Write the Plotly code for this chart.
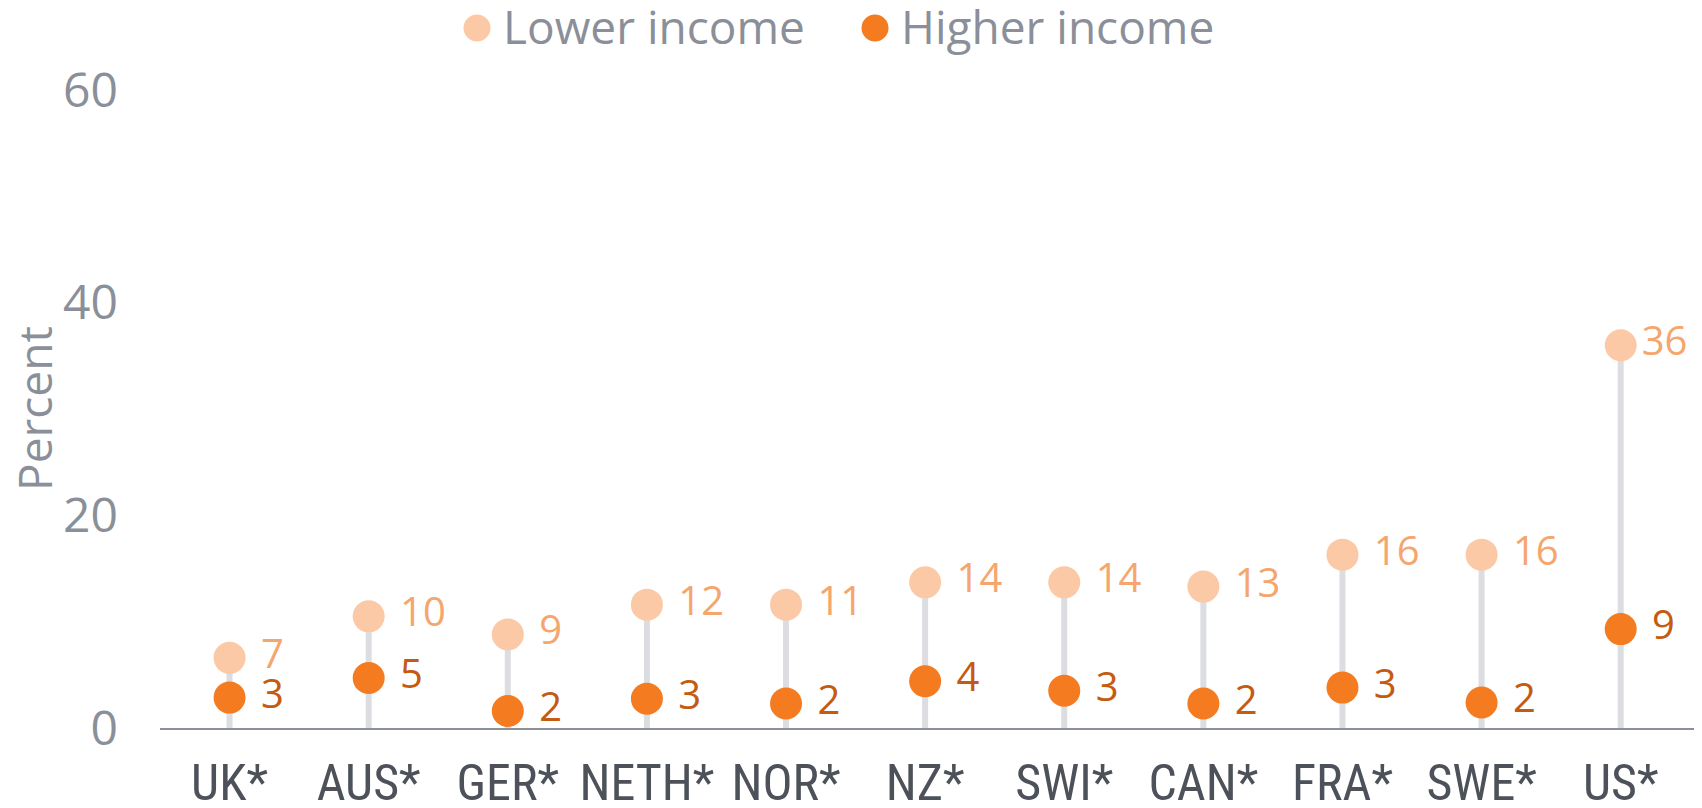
import subprocess
import plotly.graph_objects as go

countries = ["UK*", "AUS*", "GER*", "NETH*", "NOR*", "NZ*", "SWI*", "CAN*", "FRA*", "SWE*", "US*"]
lower_income = [6.6, 10.5, 8.8, 11.6, 11.6, 13.7, 13.7, 13.3, 16.3, 16.3, 36.0]
higher_income = [2.86, 4.7, 1.6, 2.75, 2.3, 4.4, 3.5, 2.3, 3.8, 2.4, 9.3]
lower_labels = ["7", "10", "9", "12", "11", "14", "14", "13", "16", "16", "36"]
higher_labels = ["3", "5", "2", "3", "2", "4", "3", "2", "3", "2", "9"]
y_ticks = [0, 20, 40, 60]
series_names = ["Lower income", "Higher income"]

FONT = "Open Sans"
GRAY = "#8a8f99"
LOWER_C = "#fbc9a5"
HIGHER_C = "#f47b20"

# pick a condensed face for the category labels if one is installed
try:
    fams = subprocess.run(["fc-list", ":", "family"], capture_output=True, text=True).stdout
except Exception:
    fams = ""
NARROW, NARROW_SIZE = "Roboto", 44
for cand in ["Liberation Sans Narrow", "Roboto Condensed", "DejaVu Sans Condensed", "Open Sans Condensed"]:
    if cand in fams:
        NARROW = cand
        NARROW_SIZE = 50 if cand in ("Liberation Sans Narrow", "Roboto Condensed") else 44
        break

# page body has an 8px margin; positions below are page pixels
OFF = 8
W, H = 1702, 808
L, R, T, B = 152, 10, 82, 88
PW, PH = W - L - R, H - T - B


def px_x(px):
    return (px - OFF - L) / PW


def px_y(py):
    return (H - B - (py - OFF)) / PH


stem_x, stem_y = [], []
for c, v in zip(countries, lower_income):
    stem_x += [c, c, None]
    stem_y += [0, v, None]

# small gap before value labels (none for the last one, which sits at the edge)
pads = [" "] * (len(countries) - 1) + [""]

fig = go.Figure()
fig.add_trace(go.Scatter(x=stem_x, y=stem_y, mode="lines",
                         line=dict(color="#dcdde1", width=6),
                         showlegend=False, hoverinfo="skip"))
fig.add_trace(go.Scatter(x=countries, y=lower_income, mode="markers+text",
                         name=series_names[0], showlegend=False, cliponaxis=False,
                         marker=dict(size=32, color=LOWER_C),
                         text=[p + t for p, t in zip(pads, lower_labels)], textposition="middle right",
                         textfont=dict(family=FONT, size=40, color="#f5a66e")))
fig.add_trace(go.Scatter(x=countries, y=higher_income, mode="markers+text",
                         name=series_names[1], showlegend=False, cliponaxis=False,
                         marker=dict(size=32, color=HIGHER_C),
                         text=[" " + t for t in higher_labels], textposition="middle right",
                         textfont=dict(family=FONT, size=40, color="#c55a11")))

# legend drawn manually (large markers as in the reference)
legend_items = [(series_names[0], LOWER_C, 477, 501), (series_names[1], HIGHER_C, 875, 899)]
shapes, annotations = [], []
for name, col, cx, tx in legend_items:
    shapes.append(dict(type="circle", xref="paper", yref="paper",
                       xsizemode="pixel", ysizemode="pixel",
                       xanchor=px_x(cx), yanchor=px_y(28),
                       x0=-13.5, x1=13.5, y0=-13.5, y1=13.5,
                       fillcolor=col, line=dict(width=0)))
    annotations.append(dict(text=name, xref="paper", yref="paper",
                            x=px_x(tx), y=px_y(26), xanchor="left", yanchor="middle",
                            showarrow=False, font=dict(family=FONT, size=46, color=GRAY)))

annotations.append(dict(text="Percent", xref="paper", yref="paper",
                        x=px_x(34), y=px_y(409), xanchor="center", yanchor="middle",
                        textangle=-90, showarrow=False,
                        font=dict(family=FONT, size=46, color=GRAY)))

fig.update_layout(
    width=W, height=H,
    margin=dict(l=L, r=R, t=T, b=B, autoexpand=False),
    plot_bgcolor="white", paper_bgcolor="white",
    font=dict(family=FONT, color=GRAY),
    showlegend=False,
    shapes=shapes, annotations=annotations,
    xaxis=dict(range=[-0.5, 10.57], showgrid=False, showline=True, linecolor=GRAY, linewidth=2,
               tickfont=dict(family=NARROW, size=NARROW_SIZE, color="#4d525a"), ticks="",
               tickangle=0, ticklabelstandoff=10, zeroline=False),
    yaxis=dict(range=[0, 60], tickvals=y_ticks, showgrid=False, zeroline=False,
               showline=False, tickfont=dict(size=48, color=GRAY), ticklabelstandoff=41),
)

fig.write_html("out.html")
